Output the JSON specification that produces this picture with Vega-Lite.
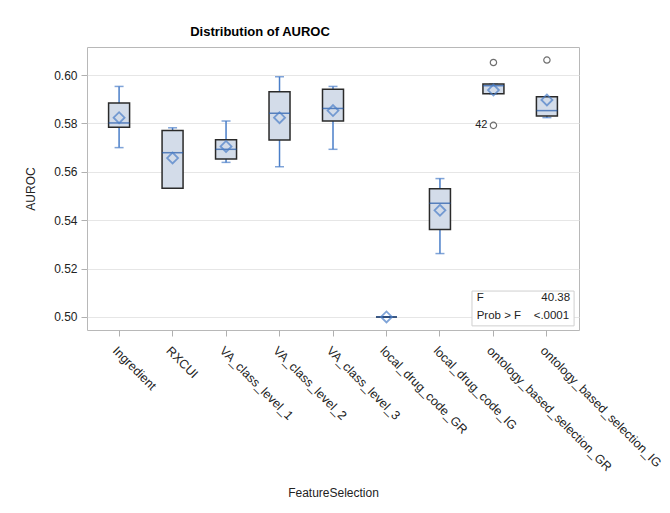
{
  "$schema": "https://vega.github.io/schema/vega-lite/v6.json",
  "autosize": "none",
  "width": 492,
  "height": 283,
  "padding": {"left": 87, "top": 47, "right": 91, "bottom": 183},
  "background": "white",
  "title": {"text": "Distribution of AUROC", "font": "Liberation Sans", "fontSize": 13, "fontWeight": "bold", "color": "#000000", "anchor": "middle", "dx": -73, "offset": 8},
  "config": {
    "view": {"stroke": "#B8B8B8", "strokeWidth": 1},
    "font": "Liberation Sans",
    "axis": {"labelFont": "Liberation Sans", "titleFont": "Liberation Sans", "labelColor": "#222222", "titleColor": "#222222", "tickColor": "#B0B0B0", "domain": false, "labelFontSize": 12, "titleFontSize": 12, "titleFontWeight": "normal"}
  },
  "datasets": {
    "stats": [
      {"f": "Ingredient", "lo": 0.570, "q1": 0.5784, "med": 0.5802, "q3": 0.5884, "hi": 0.5953, "mean": 0.5824},
      {"f": "RXCUI", "lo": 0.5532, "q1": 0.5532, "med": 0.5679, "q3": 0.5771, "hi": 0.5782, "mean": 0.5657},
      {"f": "VA_class_level_1", "lo": 0.5639, "q1": 0.5653, "med": 0.5693, "q3": 0.5733, "hi": 0.5810, "mean": 0.5705},
      {"f": "VA_class_level_2", "lo": 0.5621, "q1": 0.5731, "med": 0.5842, "q3": 0.5931, "hi": 0.5993, "mean": 0.5824},
      {"f": "VA_class_level_3", "lo": 0.5693, "q1": 0.5810, "med": 0.5862, "q3": 0.5941, "hi": 0.5953, "mean": 0.5853},
      {"f": "local_drug_code_GR", "lo": 0.500, "q1": 0.500, "med": 0.500, "q3": 0.500, "hi": 0.500, "mean": 0.500},
      {"f": "local_drug_code_IG", "lo": 0.5262, "q1": 0.5361, "med": 0.5470, "q3": 0.5530, "hi": 0.5572, "mean": 0.5441},
      {"f": "ontology_based_selection_GR", "lo": 0.5923, "q1": 0.5923, "med": 0.5956, "q3": 0.5963, "hi": 0.5963, "mean": 0.5938},
      {"f": "ontology_based_selection_IG", "lo": 0.5824, "q1": 0.5831, "med": 0.5853, "q3": 0.5910, "hi": 0.5910, "mean": 0.5897}
    ],
    "outliers": [
      {"f": "ontology_based_selection_GR", "v": 0.6052, "lab": ""},
      {"f": "ontology_based_selection_GR", "v": 0.5792, "lab": "42"},
      {"f": "ontology_based_selection_IG", "v": 0.6062, "lab": ""}
    ],
    "inset": [
      {"x1": 0.7825, "x2": 0.990, "y1": 0.4963, "y2": 0.5107}
    ],
    "insetText": [
      {"xl": 0.792, "xr": 0.982, "y": 0.5079, "l": "F", "r": "40.38"},
      {"xl": 0.792, "xr": 0.980, "y": 0.5005, "l": "Prob > F", "r": "<.0001"}
    ]
  },
  "layer": [
    {
      "encoding": {
        "x": {"field": "f", "type": "nominal", "sort": null,
          "scale": {"domain": ["Ingredient", "RXCUI", "VA_class_level_1", "VA_class_level_2", "VA_class_level_3", "local_drug_code_GR", "local_drug_code_IG", "ontology_based_selection_GR", "ontology_based_selection_IG"], "paddingInner": 0, "paddingOuter": 0.1},
          "axis": {"title": "FeatureSelection", "labelAngle": 45, "labelAlign": "left", "labelBaseline": "top", "labelPadding": 8, "labelFontSize": 12.5, "tickSize": 6, "titlePadding": 14, "grid": false, "labelLimit": 300}},
        "y": {"type": "quantitative",
          "scale": {"domain": [0.4946, 0.6116], "nice": false, "zero": false},
          "axis": {"title": "AUROC", "values": [0.50, 0.52, 0.54, 0.56, 0.58, 0.60], "format": ".2f", "grid": true, "gridColor": "#E6E6E6", "tickSize": 6, "labelPadding": 4, "titlePadding": 16}}
      },
      "layer": [
        {"data": {"name": "stats"}, "mark": {"type": "rule", "color": "#4A7EC8", "strokeWidth": 1.5}, "encoding": {"y": {"field": "lo", "type": "quantitative"}, "y2": {"field": "hi"}}},
        {"data": {"name": "stats"}, "mark": {"type": "tick", "color": "#4A7EC8", "size": 9, "thickness": 1.5}, "encoding": {"y": {"field": "lo", "type": "quantitative"}}},
        {"data": {"name": "stats"}, "mark": {"type": "tick", "color": "#4A7EC8", "size": 9, "thickness": 1.5}, "encoding": {"y": {"field": "hi", "type": "quantitative"}}},
        {"data": {"name": "stats"}, "mark": {"type": "bar", "size": 21, "fill": "#D3DCE9", "stroke": "#2A2A2A", "strokeWidth": 1.5}, "encoding": {"y": {"field": "q1", "type": "quantitative"}, "y2": {"field": "q3"}}},
        {"data": {"name": "stats"}, "mark": {"type": "tick", "color": "#2157A8", "size": 21, "thickness": 1.5}, "encoding": {"y": {"field": "med", "type": "quantitative"}}},
        {"data": {"name": "stats"}, "mark": {"type": "point", "shape": "diamond", "filled": false, "size": 120, "stroke": "#4A7EC8", "strokeWidth": 1.8}, "encoding": {"y": {"field": "mean", "type": "quantitative"}}},
        {"data": {"name": "outliers"}, "mark": {"type": "point", "shape": "circle", "filled": false, "size": 40, "stroke": "#333333", "strokeWidth": 1.2}, "encoding": {"y": {"field": "v", "type": "quantitative"}}},
        {"data": {"name": "outliers"}, "mark": {"type": "text", "align": "right", "baseline": "middle", "dx": -6, "fontSize": 11, "color": "#222222"}, "encoding": {"y": {"field": "v", "type": "quantitative"}, "text": {"field": "lab"}}}
      ]
    },
    {
      "data": {"name": "inset"},
      "mark": {"type": "rect", "fill": "white", "stroke": "#CFCFCF", "strokeWidth": 1},
      "encoding": {
        "x": {"field": "x1", "type": "quantitative", "scale": {"domain": [0, 1]}, "axis": null},
        "x2": {"field": "x2"},
        "y": {"field": "y1", "type": "quantitative"},
        "y2": {"field": "y2"}
      }
    },
    {
      "data": {"name": "insetText"},
      "encoding": {"y": {"field": "y", "type": "quantitative"}},
      "layer": [
        {"mark": {"type": "text", "align": "left", "baseline": "middle", "fontSize": 11.5, "color": "#222222"}, "encoding": {"x": {"field": "xl", "type": "quantitative", "scale": {"domain": [0, 1]}, "axis": null}, "text": {"field": "l"}}},
        {"mark": {"type": "text", "align": "right", "baseline": "middle", "fontSize": 11.5, "color": "#222222"}, "encoding": {"x": {"field": "xr", "type": "quantitative", "scale": {"domain": [0, 1]}, "axis": null}, "text": {"field": "r"}}}
      ]
    }
  ],
  "resolve": {"scale": {"x": "independent"}}
}
